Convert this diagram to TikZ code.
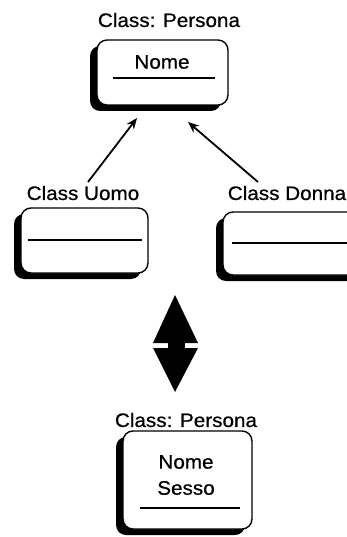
\documentclass[tikz,border=0pt]{standalone}
\usepackage{fontspec}
\setmainfont{Liberation Sans}
\newfontfamily\labelfont[FakeBold=0.6]{Liberation Sans}
\usetikzlibrary{shadows,arrows.meta}
\begin{document}
\begin{tikzpicture}[x=1pt,y=-1pt,
  lbl/.style={font=\labelfont\fontsize{19.5}{22}\selectfont, inner sep=0pt, xscale=1.06},
  classbox/.style={draw=black, line width=1.4pt, fill=white, rounded corners=10pt,
    inner sep=0pt,
    drop shadow={shadow xshift=-7pt, shadow yshift=-6pt, fill=black, opacity=1}},
  divider/.style={line width=1.1pt},
  inherit/.style={line width=1.8pt, -{Stealth[length=11pt,width=9pt]}}]
\useasboundingbox (0,0) rectangle (347,537);
\begin{scope}
\clip (0,0) rectangle (347,537);

% generic class at the top
\node[lbl] (ptitle) at (169,20) {Class: Persona};
\node[classbox, minimum width=131pt, minimum height=65pt] (pbox) at (162.5,72.5) {};
\node[lbl] (pnome) at (162,62) {Nome};
\draw[divider] (113,78) -- (215,78);

% subclasses
\node[lbl] (utitle) at (83,193) {Class Uomo};
\node[classbox, minimum width=127pt, minimum height=65pt] (ubox) at (84.5,240.5) {};
\draw[divider] (28,240) -- (142,240);

\node[lbl] (dtitle) at (287,193) {Class Donna};
\node[classbox, minimum width=140pt, minimum height=63pt] (dbox) at (293,243.5) {};
\draw[divider] (232,243) -- (347,243);

% inheritance arrows
\coordinate (utail) at (88,182);
\coordinate (dtail) at (258,182);
\coordinate (uhead) at (137,118);
\coordinate (dhead) at (188,122);
\draw[inherit] (utail) -- (uhead);
\draw[inherit] (dtail) -- (dhead);

% equivalence double arrow
\fill (175,295) -- (198,343) -- (153,343) -- cycle;
\fill (168,342) rectangle (185,349);
\fill (153,348) -- (198,348) -- (175,392) -- cycle;

% merged class at the bottom
\node[lbl] (mtitle) at (186,420) {Class: Persona};
\node[classbox, minimum width=129pt, minimum height=98pt] (mbox) at (187.5,480) {};
\node[lbl] (mnome) at (186,462) {Nome};
\node[lbl] (msesso) at (186,488) {Sesso};
\draw[divider] (140,508) -- (240,508);
\end{scope}
\end{tikzpicture}
\end{document}
